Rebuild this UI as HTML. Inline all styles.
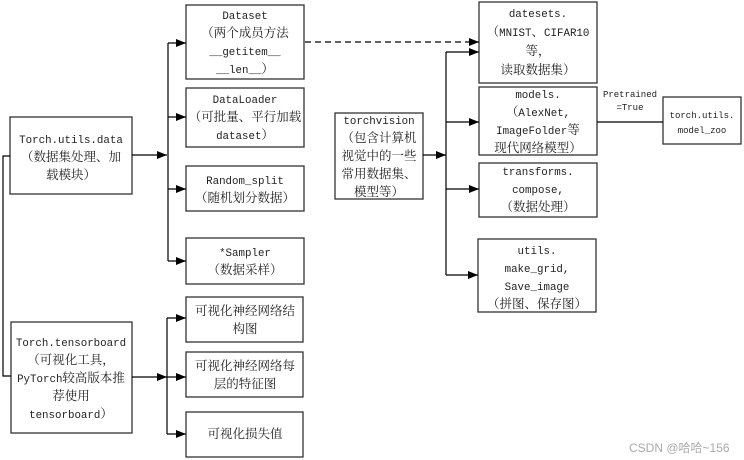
<!DOCTYPE html>
<html><head><meta charset="utf-8"><style>
html,body{margin:0;padding:0;background:#fff;}
svg{display:block;}
text{font-family:"Liberation Mono","Noto Serif CJK SC",monospace;font-size:12.5px;fill:#222;}
.l{font-size:10.8px;}
.s{font-size:9px;}
.w{font-family:"Liberation Sans","Noto Sans CJK SC",sans-serif;font-size:12px;fill:#aaa;}
</style></head><body>
<svg width="744" height="460" viewBox="0 0 744 460" xmlns="http://www.w3.org/2000/svg">
<defs><marker id="a" markerWidth="10" markerHeight="8" refX="10" refY="4" orient="auto" markerUnits="userSpaceOnUse"><path d="M0,0 L10,4 L0,8 z" fill="#000"/></marker></defs>
<g fill="none" stroke="#333" stroke-width="1.3">
<rect x="186" y="5" width="118" height="74"/>
<rect x="186" y="88" width="118" height="59"/>
<rect x="186" y="166" width="118" height="45"/>
<rect x="186" y="238" width="118" height="46"/>
<rect x="10" y="117" width="122" height="77"/>
<rect x="11" y="322" width="121" height="111"/>
<rect x="186" y="297" width="117" height="45"/>
<rect x="186" y="352" width="117" height="45"/>
<rect x="186" y="412" width="117" height="45"/>
<rect x="335" y="113" width="88" height="86"/>
<rect x="479" y="2" width="118" height="81"/>
<rect x="479" y="87" width="118" height="68"/>
<rect x="479" y="163" width="118" height="54"/>
<rect x="478" y="239" width="118" height="73"/>
<rect x="663" y="97" width="78" height="47"/>
</g>
<g fill="none" stroke="#000" stroke-width="1.2">
<line x1="132" y1="155" x2="167" y2="155" marker-end="url(#a)"/>
<line x1="168" y1="43" x2="168" y2="261"/>
<line x1="168" y1="43" x2="186" y2="43" marker-end="url(#a)"/>
<line x1="168" y1="117" x2="186" y2="117" marker-end="url(#a)"/>
<line x1="168" y1="189" x2="186" y2="189" marker-end="url(#a)"/>
<line x1="168" y1="261" x2="186" y2="261" marker-end="url(#a)"/>
<polyline points="10,156 3,156 3,376 11,376"/>
<line x1="132" y1="377" x2="167" y2="377" marker-end="url(#a)"/>
<line x1="167" y1="318" x2="167" y2="434"/>
<line x1="167" y1="318" x2="186" y2="318" marker-end="url(#a)"/>
<line x1="167" y1="377" x2="186" y2="377" marker-end="url(#a)"/>
<line x1="167" y1="434" x2="186" y2="434" marker-end="url(#a)"/>
<line x1="305" y1="42" x2="479" y2="42" stroke-dasharray="6,4" marker-end="url(#a)"/>
<line x1="423" y1="155" x2="446" y2="155" marker-end="url(#a)"/>
<line x1="446" y1="52" x2="446" y2="275"/>
<line x1="446" y1="52" x2="479" y2="52" marker-end="url(#a)"/>
<line x1="446" y1="122" x2="479" y2="122" marker-end="url(#a)"/>
<line x1="446" y1="189" x2="479" y2="189" marker-end="url(#a)"/>
<line x1="446" y1="275" x2="478" y2="275" marker-end="url(#a)"/>
<line x1="597" y1="122" x2="663" y2="122"/>
</g>
<g text-anchor="middle">
<text x="245" y="19" class="l">Dataset</text>
<text x="245" y="37">（两个成员方法</text>
<text x="245" y="55" class="l">__getitem__</text>
<text x="245" y="73"><tspan class="l">__len__</tspan>）</text>
<text x="245" y="103" class="l">DataLoader</text>
<text x="245" y="121">（可批量、平行加载</text>
<text x="245" y="139"><tspan class="l">dataset</tspan>）</text>
<text x="245" y="184" class="l">Random_split</text>
<text x="245" y="202">（随机划分数据）</text>
<text x="245" y="256" class="l">*Sampler</text>
<text x="245" y="274">（数据采样）</text>
<text x="71" y="143" class="l">Torch.utils.data</text>
<text x="71" y="161">（数据集处理、加</text>
<text x="71" y="179">载模块）</text>
<text x="71" y="346" class="l">Torch.tensorboard</text>
<text x="71" y="364">（可视化工具，</text>
<text x="71" y="382"><tspan class="l">PyTorch</tspan>较高版本推</text>
<text x="71" y="400">荐使用</text>
<text x="71" y="418"><tspan class="l">tensorboard</tspan>）</text>
<text x="245" y="315">可视化神经网络结</text>
<text x="245" y="333">构图</text>
<text x="245" y="370">可视化神经网络每</text>
<text x="245" y="388">层的特征图</text>
<text x="245" y="438">可视化损失值</text>
<text x="379" y="124" class="l">torchvision</text>
<text x="379" y="142">（包含计算机</text>
<text x="379" y="160">视觉中的一些</text>
<text x="379" y="178">常用数据集、</text>
<text x="379" y="196">模型等）</text>
<text x="538" y="17" class="l">datesets.</text>
<text x="538" y="36">（<tspan class="l">MNIST</tspan>、<tspan class="l">CIFAR10</tspan></text>
<text x="538" y="55">等，</text>
<text x="538" y="74">读取数据集）</text>
<text x="538" y="98" class="l">models.</text>
<text x="538" y="116">（<tspan class="l">AlexNet,</tspan></text>
<text x="538" y="134"><tspan class="l">ImageFolder</tspan>等</text>
<text x="538" y="152">现代网络模型）</text>
<text x="538" y="175" class="l">transforms.</text>
<text x="538" y="193" class="l">compose,</text>
<text x="538" y="211">（数据处理）</text>
<text x="537" y="254" class="l">utils.</text>
<text x="537" y="272" class="l">make_grid,</text>
<text x="537" y="290" class="l">Save_image</text>
<text x="537" y="308">（拼图、保存图）</text>
<text class="s" x="630" y="97">Pretrained</text>
<text class="s" x="630" y="110">=True</text>
<text class="s" x="702" y="118">torch.utils.</text>
<text class="s" x="702" y="133">model_zoo</text>
</g>
<text class="w" x="629" y="452">CSDN @哈哈~156</text>
</svg>
</body></html>
